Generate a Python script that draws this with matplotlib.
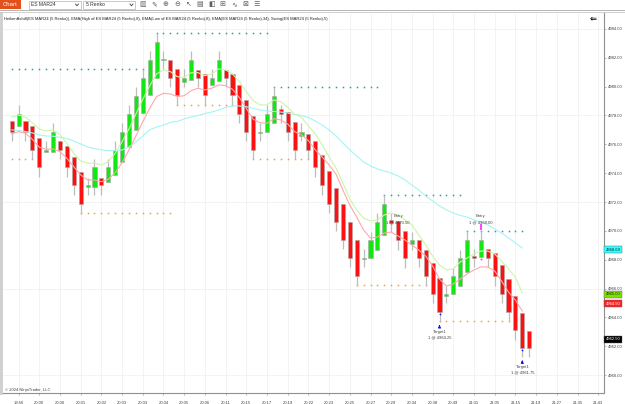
import numpy as np
import matplotlib.pyplot as plt
from matplotlib.patches import Rectangle
from matplotlib.lines import Line2D
from matplotlib.transforms import blended_transform_factory

plt.rcParams['font.family'] = ['Liberation Sans', 'DejaVu Sans']

# ---- data (Heiken Ashi on 5 Renko, ES MAR24) ----
opens = [4977.65, 4977.25, 4977.65, 4977.25, 4976.45, 4975.45, 4975.5, 4976.2, 4975.9, 4975.15,
         4974.1, 4973.05, 4973.05, 4973.7, 4973.4, 4973.9, 4974.75, 4975.8, 4977.0, 4978.15,
         4979.4, 4980.6, 4981.85, 4981.85, 4981.2, 4980.3, 4980.45, 4981.15, 4980.9, 4980.1,
         4980.4, 4981.15, 4980.9, 4980.1, 4979.1, 4977.95, 4976.8, 4976.85, 4977.5, 4978.45,
         4978.25, 4977.55, 4976.6, 4976.7, 4976.2, 4975.25, 4974.15, 4973.0, 4971.85, 4970.6,
         4969.35, 4968.05, 4968.1, 4968.7, 4969.7, 4970.75, 4970.7, 4970.0, 4969.1, 4969.35,
         4968.65, 4967.75, 4966.7, 4965.5, 4965.6, 4966.2, 4967.15, 4968.25, 4968.2, 4968.75,
         4968.45, 4967.65, 4966.65, 4965.5, 4964.3, 4963.05]
highs = [4977.65, 4978.75, 4977.65, 4977.25, 4976.45, 4976.2, 4977.5, 4976.2, 4975.9, 4975.15,
         4974.1, 4973.65, 4975.0, 4973.7, 4975.0, 4976.2, 4977.5, 4978.75, 4980.0, 4981.25,
         4982.5, 4983.75, 4982.5, 4981.85, 4981.2, 4981.25, 4982.5, 4981.15, 4980.9, 4981.25,
         4982.5, 4981.15, 4980.9, 4980.1, 4979.1, 4977.95, 4977.5, 4978.75, 4980.0, 4978.75,
         4978.25, 4977.55, 4977.5, 4976.7, 4976.2, 4975.25, 4974.15, 4973.0, 4971.85, 4970.6,
         4969.35, 4968.75, 4969.95, 4971.25, 4972.5, 4971.25, 4970.7, 4970.0, 4969.95, 4969.35,
         4968.65, 4967.75, 4966.7, 4966.2, 4967.45, 4968.7, 4970.0, 4968.75, 4970.0, 4968.75,
         4968.45, 4967.65, 4966.65, 4965.5, 4964.3, 4963.05]
lows = [4976.2, 4977.25, 4976.2, 4975.0, 4973.75, 4975.45, 4975.5, 4975.0, 4973.75, 4972.5,
        4971.2, 4972.5, 4972.5, 4972.5, 4973.4, 4973.9, 4974.75, 4975.8, 4977.0, 4978.15,
        4979.4, 4980.6, 4981.25, 4980.0, 4978.75, 4980.0, 4980.45, 4980.0, 4978.75, 4980.1,
        4980.4, 4980.0, 4978.75, 4977.5, 4976.2, 4975.0, 4976.2, 4976.85, 4977.5, 4977.5,
        4976.2, 4975.0, 4976.2, 4975.0, 4973.75, 4972.5, 4971.25, 4970.0, 4968.75, 4967.5,
        4966.2, 4967.5, 4968.1, 4968.7, 4969.7, 4969.95, 4968.7, 4967.45, 4968.7, 4967.5,
        4966.2, 4965.0, 4963.7, 4965.0, 4965.6, 4966.2, 4967.15, 4967.5, 4968.2, 4967.5,
        4966.2, 4965.0, 4963.7, 4962.45, 4961.25, 4961.25]
closes = [4976.85, 4978.1, 4976.85, 4975.6, 4974.4, 4975.6, 4976.85, 4975.6, 4974.4, 4973.15,
          4971.85, 4973.15, 4974.4, 4973.15, 4974.4, 4975.6, 4976.85, 4978.1, 4979.35, 4980.6,
          4981.85, 4983.1, 4981.9, 4980.6, 4979.4, 4980.6, 4981.85, 4980.6, 4979.4, 4980.6,
          4981.85, 4980.6, 4979.4, 4978.1, 4976.85, 4975.6, 4976.87, 4978.1, 4979.35, 4978.1,
          4976.85, 4975.6, 4976.85, 4975.6, 4974.4, 4973.15, 4971.85, 4970.6, 4969.35, 4968.1,
          4966.85, 4968.1, 4969.35, 4970.6, 4971.85, 4970.55, 4969.35, 4968.1, 4969.35, 4968.1,
          4966.85, 4965.6, 4964.35, 4965.6, 4966.85, 4968.1, 4969.35, 4968.1, 4969.35, 4968.1,
          4966.85, 4965.6, 4964.35, 4963.1, 4961.85, 4961.85]

ema_high = [4977.88, 4978.04, 4977.88, 4977.5, 4977.04, 4976.93, 4977.0, 4976.65, 4976.07, 4975.38,
            4974.85, 4974.69, 4974.69, 4974.57, 4974.8, 4975.38, 4976.18, 4977.07, 4978.1, 4979.12,
            4980.05, 4980.88, 4981.16, 4981.04, 4980.69, 4980.65, 4980.97, 4980.97, 4980.76, 4980.88,
            4981.23, 4981.16, 4980.88, 4980.35, 4979.65, 4979.03, 4978.73, 4978.73, 4979.08, 4978.96,
            4978.57, 4978.08, 4977.88, 4977.27, 4976.72, 4975.96, 4975.13, 4974.36, 4973.32, 4972.21,
            4971.45, 4970.89, 4970.69, 4970.75, 4971.1, 4971.24, 4971.1, 4970.75, 4970.41, 4969.71,
            4969.02, 4968.26, 4967.63, 4967.29, 4967.36, 4967.84, 4968.12, 4968.4, 4968.6, 4968.6,
            4968.4, 4967.91, 4967.36, 4966.8, 4965.69]
ema_low = [4976.72, 4976.88, 4976.77, 4976.35, 4975.8, 4975.66, 4975.68, 4975.49, 4975.03, 4974.45,
           4973.88, 4973.53, 4973.53, 4973.41, 4973.58, 4974.03, 4974.73, 4975.61, 4976.58, 4977.57,
           4978.5, 4979.31, 4979.54, 4979.49, 4979.31, 4979.37, 4979.72, 4979.89, 4979.77, 4979.89,
           4980.12, 4980.07, 4979.82, 4979.24, 4978.5, 4977.74, 4977.5, 4977.46, 4977.78, 4977.69,
           4977.41, 4976.88, 4976.65, 4976.25, 4975.61, 4975.12, 4974.57, 4973.94, 4972.83, 4971.79,
           4970.96, 4970.06, 4969.5, 4969.57, 4969.85, 4969.92, 4969.64, 4969.37, 4969.02, 4968.67,
           4968.26, 4967.57, 4966.66, 4966.18, 4966.32, 4966.66, 4967.01, 4967.29, 4967.5, 4967.5,
           4967.22, 4966.52, 4965.76, 4965.21, 4964.44]
ema34 = [4977.0, 4976.96, 4976.89, 4976.79, 4976.65, 4976.58, 4976.56, 4976.48, 4976.41, 4976.23,
         4976.03, 4975.82, 4975.71, 4975.61, 4975.56, 4975.56, 4975.61, 4975.82, 4976.16, 4976.58,
         4977.0, 4977.2, 4977.34, 4977.52, 4977.59, 4977.76, 4977.9, 4978.0, 4978.14, 4978.24,
         4978.38, 4978.56, 4978.66, 4978.66, 4978.61, 4978.49, 4978.38, 4978.31, 4978.28, 4978.24,
         4978.17, 4978.07, 4978.0, 4977.86, 4977.62, 4977.34, 4977.0, 4976.58, 4976.09, 4975.61,
         4975.19, 4974.78, 4974.5, 4974.29, 4974.15, 4974.01, 4973.81, 4973.53, 4973.18, 4972.83,
         4972.42, 4972.07, 4971.73, 4971.45, 4971.24, 4971.07, 4970.96, 4970.75, 4970.62, 4970.41,
         4970.13, 4969.85, 4969.51, 4969.16, 4968.81]

# swing levels: (first bar, last bar, price)
swing_highs = [(0, 19, 4981.25), (21, 37, 4983.75), (38, 53, 4980.0), (54, 65, 4972.5), (66, 74, 4970.0)]
swing_lows = [(0, 3, 4975.0), (10, 23, 4971.25), (24, 32, 4978.75), (35, 43, 4975.0),
              (50, 60, 4966.25), (62, 72, 4963.75)]

entry_bars = [56, 68]
entry_prices = [4970.50, 4968.00]
target_bars = [62, 74]
target_prices = [4964.25, 4961.75]

time_labels = ['19:56', '20:00', '20:00', '20:01', '20:02', '20:03', '20:03', '20:04', '20:05', '20:06',
               '20:11', '20:15', '20:17', '20:19', '20:22', '20:23', '20:25', '20:27', '20:29', '20:34',
               '20:38', '20:49', '21:01', '21:05', '21:15', '21:19', '21:27', '21:35', '21:43']
price_ticks = list(range(4960, 4985, 2))

# right-axis value markers: (value, face colour, text colour, nudge)
value_tags = [(4968.69, '#33ffff', '#003030', 0.0), (4965.00, '#7fe000', '#103000', 0.6),
              (4964.50, '#ff2020', 'white', 0.45), (4962.50, 'black', 'white', 0.0)]

W, H = 625, 404
fig = plt.figure(figsize=(6.25, 4.04), dpi=100)
fig.patch.set_facecolor('white')


def fx(x):
    return x / W


def fy(y):
    return 1 - y / H


ax = fig.add_axes([fx(3), fy(393), 601 / W, 380.5 / H])
ax.set_xlim(-1.26, 85.84)
ax.set_ylim(4958.76, 4985.14)

# grid
for i in range(1, 86, 3):
    ax.axvline(i, color='#eeeeee', lw=0.5, zorder=0)
for p in range(4960, 4985, 6):
    ax.axhline(p, color='#eeeeee', lw=0.5, zorder=0)

# swing dots
for s, e, p in swing_highs:
    n = np.arange(s, e + 1)
    ax.plot(n, [p] * len(n), ls='none', marker='s', ms=1.1, mew=0, color='#2e9a9e', zorder=1)
for s, e, p in swing_lows:
    n = np.arange(s, e + 1)
    ax.plot(n, [p] * len(n), ls='none', marker='s', ms=1.1, mew=0, color='#e8a040', zorder=1)

# candles
o = np.array(opens)
c = np.array(closes)
idx = np.arange(len(o))
colors = np.where(c >= o, '#11e811', '#ff1010')
ax.vlines(idx, lows, highs, color='#bdbdbd', lw=0.9, zorder=2)
ax.bar(idx, np.maximum(np.abs(c - o), 0.07), bottom=np.minimum(o, c), width=0.6,
       color=colors, edgecolor='#a8a8a8', linewidth=0.4, zorder=3)

# moving averages
n = np.arange(len(ema34))
ax.plot(n, ema34, color='#a6f4f4', lw=0.8, zorder=4)
ax.plot(n, ema_high, color='#ccf5a8', lw=0.8, zorder=4)
ax.plot(n, ema_low, color='#ffa8a8', lw=0.8, zorder=4)

# trade annotations
for b, p in zip(entry_bars, entry_prices):
    ax.text(b, 4971.05, 'Entry', fontsize=3, color='#404040', ha='center', va='center', zorder=6)
    ax.text(b, 4970.6, f'1 @ {p:.2f}', fontsize=3, color='#404040', ha='center', va='center', zorder=6)
ax.plot([68, 68], [4970.12, 4970.38], color='#ff40ff', lw=1.4, zorder=6)
ax.plot([68], [4968.05], marker='s', ms=1.3, mew=0, color='#ff40ff', zorder=6)

for b, p in zip(target_bars, target_prices):
    lo = lows[b]
    ax.plot([b], [p], marker='o', ms=1.3, mew=0, color='#2020ff', zorder=6)
    ax.annotate('', xy=(b, lo - 0.02), xytext=(b, lo - 0.5),
                arrowprops=dict(arrowstyle='-|>', color='#1010e0', lw=0.8, mutation_scale=3.5), zorder=6)
    ax.text(b, lo - 0.68, 'Target1', fontsize=3, color='#404040', ha='center', va='center')
    ax.text(b, lo - 1.08, f'1 @ {p:.2f}', fontsize=3, color='#404040', ha='center', va='center')

# axes styling
for side in ['top', 'left']:
    ax.spines[side].set_visible(False)
for side in ['right', 'bottom']:
    ax.spines[side].set_color('#909090')
    ax.spines[side].set_linewidth(0.8)
ax.yaxis.tick_right()
ax.set_yticks(price_ticks)
ax.set_yticklabels([f'{v:.2f}' for v in price_ticks])
ax.set_xticks(range(1, 86, 3))
ax.set_xticklabels(time_labels)
ax.tick_params(axis='y', labelsize=3, length=1.5, width=0.4, color='#808080', labelcolor='#404040', pad=1)
ax.tick_params(axis='x', labelsize=3, length=1.5, width=0.4, color='#808080', labelcolor='#404040', pad=4)

tr = blended_transform_factory(ax.transAxes, ax.transData)
for v, fc, tc, nudge in value_tags:
    ax.text(1.003, v + nudge, f'{v:.2f}', transform=tr, fontsize=3, color=tc, ha='left', va='center',
            zorder=10, clip_on=False,
            bbox=dict(boxstyle='square,pad=0.35', fc=fc, ec='#606060', lw=0.3))

# title line and watermark
ax.text(0.002, 0.988, 'HeikenAshi8(ES MAR24 (5 Renko)), EMA(High of ES MAR24 (5 Renko),8), '
        'EMA(Low of ES MAR24 (5 Renko),8), EMA(ES MAR24 (5 Renko),34), Swing(ES MAR24 (5 Renko),5)',
        transform=ax.transAxes, fontsize=3, color='#202020', ha='left', va='top')
fig.text(fx(593), fy(19), '⇐', fontsize=6, fontweight='bold', color='black', ha='center', va='center')
fig.text(fx(5), fy(390), '© 2024 NinjaTrader, LLC', fontsize=3, color='#404040', ha='left', va='center')

# window chrome: toolbar, separators, left border
fig.patches.append(Rectangle((0, fy(395)), fx(2.5), (395 - 12) / H, transform=fig.transFigure,
                             fc='#d0d0d0', ec='none'))
fig.add_artist(Line2D([0, 1], [fy(9.6), fy(9.6)], color='#a8a8a8', lw=0.6))
fig.add_artist(Line2D([0, 1], [fy(12), fy(12)], color='#c8c8c8', lw=0.6))
fig.patches.append(Rectangle((0, fy(8.8)), fx(20.5), 8.8 / H, transform=fig.transFigure,
                             fc='#e2501c', ec='none'))
fig.text(fx(10), fy(4.5), 'Chart', fontsize=4.3, color='white', ha='center', va='center')
for x0, label in [(28.5, 'ES MAR24'), (83, '5 Renko')]:
    fig.patches.append(Rectangle((fx(x0), fy(8.6)), fx(52), 7.4 / H, transform=fig.transFigure,
                                 fc='white', ec='#a0a0a0', lw=0.4))
    fig.text(fx(x0 + 2.5), fy(4.9), label, fontsize=3.6, color='#303030', ha='left', va='center')
    fig.add_artist(Line2D([fx(x0 + 47), fx(x0 + 48.5), fx(x0 + 50)], [fy(4), fy(5.8), fy(4)],
                          color='#404040', lw=0.6))
icons = ['▥', '✎', '⊕', '⊖', '↖', '▤', '◧', '⊞', '∿', '⊠', '☰']
for k, g in enumerate(icons):
    fig.text(fx(143 + 11.4 * k), fy(4.9), g, fontsize=5, color='#606060', ha='center', va='center')

fig.savefig('out.png', dpi=100)
